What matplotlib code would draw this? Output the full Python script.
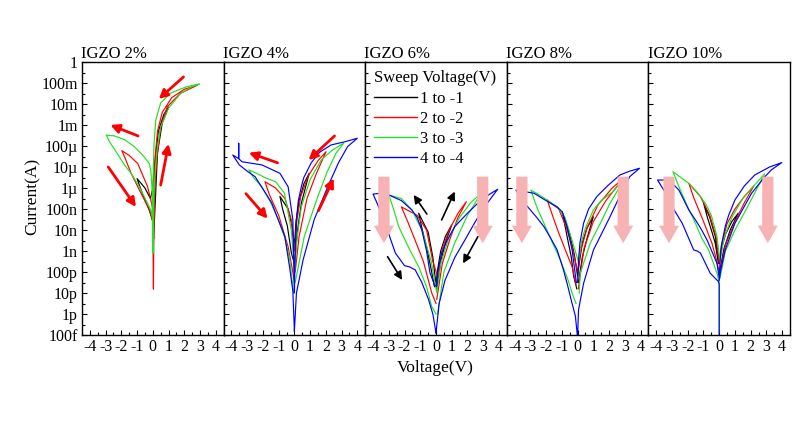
import matplotlib
matplotlib.use("Agg")
import matplotlib.pyplot as plt
import numpy as np

plt.rcParams['font.family'] = ['Liberation Serif', 'DejaVu Serif']
plt.rcParams['axes.unicode_minus'] = False

# ---- data: voltage (V) and log10 of current (A) ----
titles = ["IGZO 2%", "IGZO 4%", "IGZO 6%", "IGZO 8%", "IGZO 10%"]
sweep_labels = ["1 to -1", "2 to -2", "3 to -3", "4 to -4"]
sweep_colors = ["black", "#ff0000", "#22e022", "#0000ff"]

# IGZO 2%
igzo2_1V_V = [0.05, 0.3, 0.6, 1.0, 0.7, 0.35, 0.1, 0.0, -0.15, -0.5, -1.0, -0.65, -0.2, 0.0, 0.05]
igzo2_1V_L = [-8.4, -4.3, -2.9, -2.15, -2.5, -3.3, -5.0, -6.0, -6.5, -6.0, -5.55, -6.3, -7.1, -7.6, -8.4]
igzo2_2V_V = [0.04, 0.07, 0.13, 0.25, 0.5, 0.92, 1.76, 2.85, 2.0, 1.2, 0.6, 0.3, 0.15, 0.05, 0.0,
              -0.13, -0.33, -0.96, -1.5, -1.97, -1.75, -1.38, -0.75, -0.2, 0.0, 0.04]
igzo2_2V_L = [-10.8, -8.0, -5.94, -4.67, -3.08, -2.13, -1.49, -1.1, -1.3, -1.7, -2.4, -3.3, -4.5, -6.0, -7.0,
              -6.57, -5.94, -4.83, -4.45, -4.22, -4.6, -5.3, -6.25, -7.05, -7.6, -10.8]
igzo2_3V_V = [0.03, 0.05, 0.1, 0.25, 0.5, 1.0, 1.76, 2.5, 2.96, 2.18, 1.13, 0.5, 0.19, 0.08, 0.02, 0.0,
              -0.05, -0.13, -0.23, -0.57, -1.17, -1.8, -2.43, -2.96, -2.75, -2.4, -1.8, -1.38, -0.86,
              -0.44, -0.13, -0.02, 0.0]
igzo2_3V_L = [-9.1, -7.0, -5.8, -4.3, -3.1, -2.2, -1.5, -1.17, -1.05, -1.17, -1.48, -1.95, -2.76, -3.86, -5.46, -9.1,
              -6.0, -5.14, -4.83, -4.5, -4.03, -3.7, -3.52, -3.48, -3.8, -4.19, -4.9, -5.3, -5.94,
              -6.57, -7.05, -7.37, -8.0]
igzo2_4V_V = []
igzo2_4V_L = []

# IGZO 4%
igzo4_1V_V = [0.02, 0.2, 0.45, 0.94, 0.6, 0.3, 0.1, 0.0, -0.15, -0.4, -0.92, -0.75, -0.45, -0.19, 0.0]
igzo4_1V_L = [-9.5, -8.0, -6.7, -5.3, -5.8, -6.6, -7.6, -8.8, -7.8, -7.0, -6.4, -7.0, -7.8, -9.1, -9.6]
igzo4_2V_V = [0.05, 0.3, 0.8, 1.4, 2.01, 1.5, 0.9, 0.4, 0.15, 0.02,
              -0.2, -0.6, -1.2, -1.87, -1.6, -1.0, -0.4, -0.1, 0.0]
igzo4_2V_L = [-10.0, -8.3, -6.5, -5.3, -4.27, -4.7, -5.4, -6.4, -7.6, -9.0,
              -7.5, -6.5, -6.0, -5.7, -6.3, -7.3, -8.8, -10.0, -10.5]
igzo4_3V_V = [0.05, 0.63, 1.49, 2.1, 2.64, 3.14, 2.4, 1.7, 1.0, 0.44, 0.15, 0.02,
              -0.2, -0.63, -1.2, -1.89, -2.4, -2.9, -2.6, -2.07, -1.5, -1.03, -0.6, -0.3, -0.05]
igzo4_3V_L = [-10.5, -8.3, -6.4, -5.2, -4.35, -3.86, -4.2, -4.67, -5.6, -6.9, -8.5, -10.0,
              -8.0, -6.25, -5.7, -5.5, -5.3, -5.14, -5.5, -5.94, -6.7, -7.5, -8.4, -9.4, -11.0]
igzo4_4V_V = [0.0, 0.13, 0.55, 1.26, 2.12, 2.8, 3.38, 4.0, 3.2, 2.33, 1.6, 1.07, 0.6, 0.44, 0.25, 0.13, 0.05, 0.0,
              -0.1, -0.4, -0.92, -2.07, -3.33, -3.54, -3.54, -3.54, -3.92,
              -3.5, -3.0, -2.5, -1.45, -0.61, -0.3, -0.1, 0.0]
igzo4_4V_L = [-12.8, -11.0, -9.43, -7.5, -5.94, -4.8, -4.03, -3.63, -3.8, -3.95, -4.3, -4.8, -5.5, -5.94, -6.6, -7.5, -9.0, -11.0,
              -7.5, -5.94, -5.3, -4.9, -4.75, -4.6, -3.87, -4.6, -4.43,
              -4.9, -5.2, -5.46, -6.7, -8.3, -9.8, -10.9, -12.8]

# IGZO 6%
igzo6_1V_V = [0.05, 0.3, 0.6, 1.0, 0.6, 0.3, 0.1, 0.0, -0.2, -0.5, -1.1, -0.9, -0.6, -0.3, -0.1]
igzo6_1V_L = [-10.8, -9.5, -8.6, -7.76, -8.3, -9.0, -9.9, -10.6, -9.3, -8.1, -7.2, -7.9, -8.8, -9.9, -10.7]
igzo6_2V_V = [0.05, 0.4, 0.9, 1.4, 1.93, 1.4, 0.9, 0.4, 0.1,
              -0.2, -0.6, -1.2, -2.2, -1.8, -1.32, -0.8, -0.27, 0.0]
igzo6_2V_L = [-11.3, -9.6, -8.4, -7.4, -6.65, -7.2, -7.9, -8.9, -10.2,
              -9.5, -8.0, -7.3, -6.9, -7.6, -8.5, -9.5, -11.0, -11.5]
igzo6_3V_V = [0.1, 0.5, 1.2, 2.0, 2.87, 2.2, 1.5, 0.8, 0.3, 0.05,
              -0.3, -0.9, -1.53, -2.2, -3.0, -2.7, -2.37, -1.7, -1.1, -0.6, -0.27, 0.0]
igzo6_3V_L = [-12.0, -10.0, -8.6, -7.3, -6.25, -6.7, -7.4, -8.4, -9.6, -11.0,
              -9.5, -8.0, -7.05, -6.5, -6.33, -7.0, -7.84, -8.9, -9.75, -10.7, -11.65, -12.0]
igzo6_4V_V = [0.0, 0.2, 0.57, 1.2, 1.82, 2.5, 3.08, 3.92, 3.4, 2.87, 2.0, 1.19, 0.7, 0.36, 0.1, 0.04,
              -0.1, -0.38, -0.6, -0.9, -1.2, -1.53, -2.2, -3.0, -3.5, -4.0,
              -3.7, -3.42, -3.0, -2.58, -2.0, -1.7, -1.32, -0.9, -0.48, -0.2, 0.0]
igzo6_4V_L = [-12.9, -11.5, -10.4, -9.3, -8.5, -7.6, -6.9, -6.06, -6.3, -6.57, -7.2, -7.84, -8.5, -9.1, -10.0, -10.7,
              -10.6, -10.05, -9.0, -8.0, -7.4, -7.05, -6.6, -6.33, -6.25, -6.29,
              -6.8, -7.37, -8.2, -9.1, -9.7, -9.75, -9.9, -10.5, -11.3, -12.0, -12.9]

# IGZO 8%
igzo8_1V_V = [0.05, 0.3, 0.6, 1.0, 0.6, 0.3, 0.1, 0.0, -0.2, -0.5, -0.98, -0.8, -0.67, -0.4, -0.25, -0.05]
igzo8_1V_L = [-10.5, -9.3, -8.4, -7.37, -7.9, -8.6, -9.6, -10.2, -9.2, -8.2, -7.13, -7.8, -8.3, -9.3, -10.2, -10.8]
igzo8_2V_V = [0.05, 0.4, 1.0, 1.8, 2.9, 2.2, 1.3, 0.6, 0.2, 0.0,
              -0.35, -0.7, -1.2, -1.93, -1.6, -1.19, -0.7, -0.35, -0.1]
igzo8_2V_L = [-10.8, -8.9, -7.6, -6.6, -5.55, -6.0, -6.8, -7.9, -9.0, -10.0,
              -8.8, -7.9, -7.0, -6.57, -7.3, -8.16, -9.1, -9.75, -10.6]
igzo8_3V_V = [0.1, 0.17, 0.8, 1.5, 2.06, 3.0, 2.2, 1.5, 1.0, 0.5, 0.27, 0.05,
              -0.35, -0.8, -1.3, -1.93, -2.5, -2.97, -2.6, -2.14, -1.6, -1.09, -0.6, -0.35, -0.1]
igzo8_3V_L = [-11.0, -10.06, -8.63, -7.6, -6.73, -5.54, -6.2, -6.6, -7.05, -7.9, -8.48, -9.5,
              -8.5, -7.4, -6.9, -6.57, -6.3, -6.1, -6.9, -7.68, -8.6, -9.43, -10.4, -11.0, -11.5]
igzo8_4V_V = [0.0, 0.06, 0.38, 1.01, 2.06, 2.8, 3.31, 3.94, 3.3, 2.69, 1.9, 1.22, 0.7, 0.38, 0.15, 0.06, 0.0,
              -0.08, -0.35, -0.67, -0.98, -1.3, -1.72, -2.77, -3.92,
              -3.6, -3.18, -2.6, -2.14, -1.7, -1.3, -0.9, -0.67, -0.35, -0.14, -0.02]
igzo8_4V_L = [-13.0, -11.8, -10.54, -8.95, -7.37, -6.2, -5.46, -5.06, -5.2, -5.38, -5.9, -6.41, -7.0, -7.68, -8.6, -9.43, -10.5,
              -10.5, -8.95, -7.84, -7.13, -6.9, -6.73, -6.25, -6.1,
              -6.5, -6.89, -7.4, -7.84, -8.4, -8.95, -9.9, -10.54, -11.5, -12.1, -13.0]

# IGZO 10%
igzo10_1V_V = [0.05, 0.3, 0.7, 1.21, 0.8, 0.4, 0.1, 0.0, -0.25, -0.6, -0.99, -0.75, -0.5, -0.25, -0.05]
igzo10_1V_L = [-9.9, -8.9, -8.0, -7.2, -7.6, -8.2, -9.0, -9.6, -8.3, -7.4, -6.73, -7.4, -8.0, -8.63, -9.6]
igzo10_2V_V = [0.05, 0.4, 1.0, 1.6, 2.2, 1.6, 1.0, 0.5, 0.15, 0.0,
               -0.2, -0.6, -1.2, -1.93, -1.6, -1.1, -0.46, -0.15, 0.0]
igzo10_2V_L = [-10.0, -8.7, -7.6, -6.7, -5.9, -6.4, -7.0, -7.7, -8.7, -9.6,
               -8.3, -7.3, -6.4, -5.78, -6.5, -7.4, -8.63, -9.5, -10.0]
igzo10_3V_V = [0.05, 0.4, 1.0, 1.8, 2.89, 2.2, 1.5, 0.8, 0.3, 0.05,
               -0.14, -0.5, -0.88, -1.4, -1.93, -2.94, -2.56, -2.0, -1.51, -1.1, -0.67, -0.14, 0.0, 0.0]
igzo10_3V_L = [-10.3, -9.0, -8.0, -6.9, -5.33, -5.9, -6.5, -7.4, -8.4, -9.5,
               -8.32, -7.3, -6.73, -6.2, -5.78, -5.22, -5.94, -6.9, -7.68, -8.4, -8.95, -10.06, -10.5, -12.9]
igzo10_4V_V = [0.0, 0.1, 0.38, 1.0, 2.06, 2.8, 3.31, 3.98, 3.2, 2.26, 1.6, 1.0, 0.6, 0.38, 0.15, 0.06, 0.0,
               -0.14, -0.77, -1.19, -1.51, -1.93, -2.56, -3.19, -3.92,
               -3.4, -2.9, -2.35, -1.62, -1.4, -1.19, -0.57, -0.04, 0.0, 0.0]
igzo10_4V_L = [-10.4, -9.9, -8.95, -7.68, -6.25, -5.55, -5.14, -4.79, -5.0, -5.38, -5.9, -6.57, -7.3, -7.84, -8.7, -9.43, -10.3,
               -9.59, -8.48, -7.9, -7.52, -7.05, -6.1, -5.62, -5.62,
               -6.25, -7.0, -7.68, -8.95, -9.0, -9.1, -10.06, -10.46, -10.6, -13.0]

curves = [
    [(igzo2_1V_V, igzo2_1V_L), (igzo2_2V_V, igzo2_2V_L), (igzo2_3V_V, igzo2_3V_L), (igzo2_4V_V, igzo2_4V_L)],
    [(igzo4_1V_V, igzo4_1V_L), (igzo4_2V_V, igzo4_2V_L), (igzo4_3V_V, igzo4_3V_L), (igzo4_4V_V, igzo4_4V_L)],
    [(igzo6_1V_V, igzo6_1V_L), (igzo6_2V_V, igzo6_2V_L), (igzo6_3V_V, igzo6_3V_L), (igzo6_4V_V, igzo6_4V_L)],
    [(igzo8_1V_V, igzo8_1V_L), (igzo8_2V_V, igzo8_2V_L), (igzo8_3V_V, igzo8_3V_L), (igzo8_4V_V, igzo8_4V_L)],
    [(igzo10_1V_V, igzo10_1V_L), (igzo10_2V_V, igzo10_2V_L), (igzo10_3V_V, igzo10_3V_L), (igzo10_4V_V, igzo10_4V_L)],
]

# arrows: (tail V, tail logI, head V, head logI)
red_arrows_2 = [(1.95, -0.71, 0.38, -1.76), (-0.94, -3.52, -2.7, -3.0),
                (-2.83, -5.0, -1.07, -6.9), (0.5, -5.86, 1.0, -3.9)]
red_arrows_4 = [(2.55, -3.52, 0.9, -4.67), (-1.07, -4.8, -2.9, -4.32),
                (-3.08, -6.27, -1.7, -7.46), (1.53, -7.08, 2.5, -5.54)]
black_arrows_6 = [(-0.58, -7.24, -1.42, -6.33), (0.36, -7.52, 1.19, -6.17),
                  (-3.08, -9.27, -2.15, -10.38), (2.66, -8.32, 1.72, -9.59)]
# big pink arrows (x positions per panel, same vertical span)
pink_x = {2: [-3.31, 2.97], 3: [-3.54, 2.9], 4: [-3.19, 3.09]}
pink_top, pink_bottom = -5.46, -8.63

ytick_exp = list(range(0, -14, -1))
ytick_text = ["1", "100m", "10m", "1m", "100µ", "10µ", "1µ", "100n", "10n", "1n",
              "100p", "10p", "1p", "100f"]

fig = plt.figure(figsize=(8.09, 4.21), dpi=100)
W, H = 809, 421
left, right, top, bottom = 82, 790, 62, 335
pw = (right - left) / 5

axes = []
for i in range(5):
    ax = fig.add_axes([(left + i * pw) / W, 1 - bottom / H, pw / W, (bottom - top) / H])
    axes.append(ax)
    for j, (v, l) in enumerate(curves[i]):
        if len(v):
            ax.plot(v, 10 ** np.array(l), color=sweep_colors[j], lw=0.85, label=sweep_labels[j])
    ax.set_yscale('log')
    ax.set_ylim(1e-13, 1)
    ax.set_xlim(-4.4, 4.4)
    ax.set_xticks(range(-4, 5))
    ax.set_xticks(np.arange(-4.5, 4.6, 1.0), minor=True)
    ax.set_yticks([10.0 ** e for e in ytick_exp])
    ax.set_yticks([10.0 ** (e - 0.5) for e in ytick_exp[:-1]], minor=True)
    ax.set_yticklabels(ytick_text if i == 0 else [])
    ax.tick_params(which='both', direction='in', top=False, right=False, labelsize=11.5,
                   width=0.8, pad=3)
    ax.tick_params(which='major', length=3.5)
    ax.tick_params(which='minor', length=2)
    ax.set_title(titles[i], loc='left', fontsize=12, pad=2, x=-0.005)
    for s in ax.spines.values():
        s.set_linewidth(1.0)

def arrow(ax, a, color, lw, ms):
    ax.annotate('', xy=(a[2], 10 ** a[3]), xytext=(a[0], 10 ** a[1]),
                arrowprops=dict(arrowstyle='-|>', color=color, lw=lw, mutation_scale=ms,
                                shrinkA=0, shrinkB=0))

for a in red_arrows_2:
    arrow(axes[0], a, 'red', 2.0, 13)
for a in red_arrows_4:
    arrow(axes[1], a, 'red', 2.0, 13)
for a in black_arrows_6:
    arrow(axes[2], a, 'black', 1.2, 12)

for i, xs in pink_x.items():
    for x in xs:
        axes[i].annotate('', xy=(x, 10 ** pink_bottom), xytext=(x, 10 ** pink_top),
                         arrowprops=dict(arrowstyle='simple,head_length=0.7,head_width=0.8,tail_width=0.45',
                                         color='#f7b3b3', shrinkA=0, shrinkB=0, mutation_scale=18, lw=0))

leg = axes[2].legend(loc='upper left', bbox_to_anchor=(0.0, 1.0), frameon=False, fontsize=12,
                     title='Sweep Voltage(V)', title_fontsize=12, handlelength=2.6,
                     handletextpad=0.2, labelspacing=0.25, borderaxespad=0.3, borderpad=0.2)
leg._legend_box.align = 'left'
for line in leg.get_lines():
    line.set_linewidth(1.0)

fig.text(435 / W, 1 - 368 / H, 'Voltage(V)', ha='center', va='center', fontsize=12.5)
fig.text(33 / W, 1 - 196 / H, 'Current(A)', ha='center', va='center', rotation=90, fontsize=12.5)

fig.savefig('out.png', dpi=100)
